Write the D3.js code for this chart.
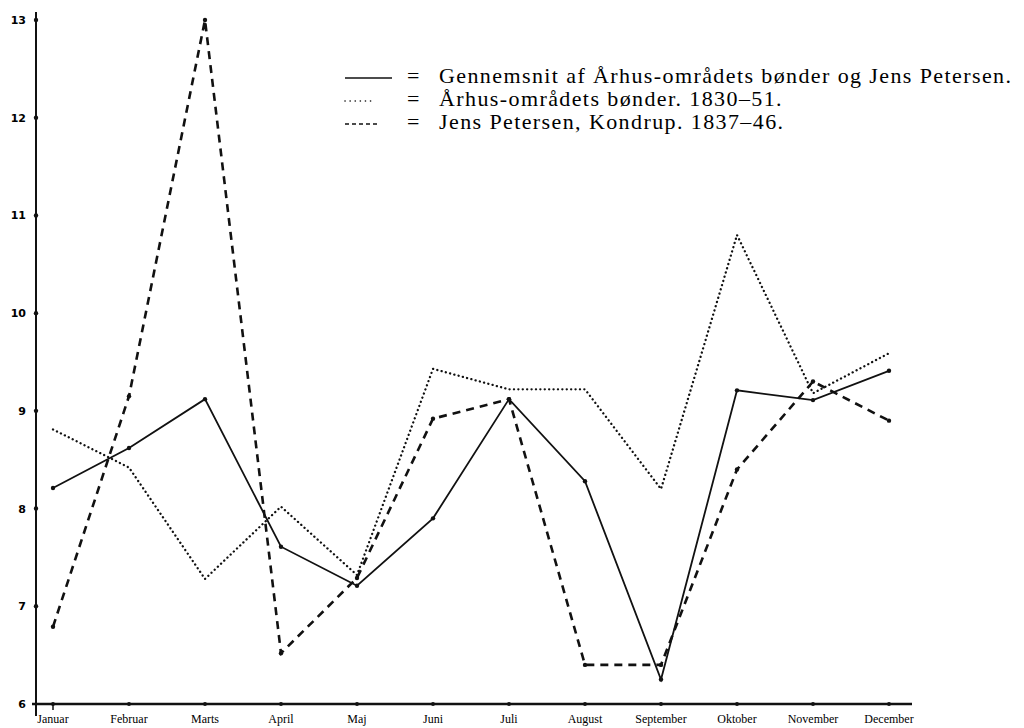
<!DOCTYPE html>
<html>
<head>
<meta charset="utf-8">
<script src="https://cdn.jsdelivr.net/npm/d3@7"></script>
<style>
  body { margin: 0; background: #fff; }
  .ytick { font-family: "DejaVu Sans", sans-serif; font-weight: bold; font-size: 11px; }
  .month { font-family: "Liberation Serif", serif; font-size: 12px; }
  .legend { font-family: "Liberation Serif", serif; font-size: 22px; letter-spacing: 1.4px; }
</style>
</head>
<body>
<div id="chart"></div>
<script>
var months = ["Januar", "Februar", "Marts", "April", "Maj", "Juni", "Juli",
  "August", "September", "Oktober", "November", "December"];
var yTicks = [6, 7, 8, 9, 10, 11, 12, 13];

// Gennemsnit (solid)
var avg = [8.21, 8.62, 9.12, 7.61, 7.21, 7.90, 9.12, 8.28, 6.25, 9.21, 9.11, 9.41];
// Århus-områdets bønder (dotted)
var aarhus = [8.81, 8.42, 7.28, 8.02, 7.32, 9.43, 9.22, 9.22, 8.20, 10.80, 9.18, 9.59];
// Jens Petersen (dashed)
var jens = [6.79, 9.15, 13.0, 6.52, 7.29, 8.92, 9.12, 6.40, 6.40, 8.40, 9.30, 8.90];

var legendLabels = [
  "Gennemsnit af Århus-områdets bønder og Jens Petersen.",
  "Århus-områdets bønder. 1830–51.",
  "Jens Petersen, Kondrup. 1837–46."
];

var width = 1024;
var height = 728;

var svg = d3.select("#chart")
  .append("svg")
  .attr("width", width)
  .attr("height", height);

var x = d3.scalePoint()
  .domain(months)
  .range([53, 889]);

var y = d3.scaleLinear()
  .domain([6, 13])
  .range([704, 20]);

// axes
svg.append("line")
  .attr("x1", 36).attr("x2", 36)
  .attr("y1", 12).attr("y2", 716)
  .attr("stroke", "#111").attr("stroke-width", 2);

svg.append("line")
  .attr("x1", 32).attr("x2", 912)
  .attr("y1", y(6)).attr("y2", y(6))
  .attr("stroke", "#111").attr("stroke-width", 2.5);

svg.selectAll(".ydot")
  .data(yTicks.slice(1))
  .enter().append("circle")
  .attr("cx", 36).attr("cy", d => y(d)).attr("r", 2.2).attr("fill", "#111");

svg.selectAll(".ytick")
  .data(yTicks)
  .enter().append("text")
  .attr("class", "ytick")
  .attr("x", 26)
  .attr("y", d => y(d) + 4)
  .attr("text-anchor", "end")
  .text(d => d);

svg.selectAll(".xdot")
  .data(months)
  .enter().append("circle")
  .attr("cx", d => x(d)).attr("cy", y(6)).attr("r", 2).attr("fill", "#111");

svg.append("line")
  .attr("x1", x("Januar")).attr("x2", x("Januar"))
  .attr("y1", y(6)).attr("y2", y(6) + 6)
  .attr("stroke", "#111").attr("stroke-width", 1.5);

svg.selectAll(".month")
  .data(months)
  .enter().append("text")
  .attr("class", "month")
  .attr("x", d => x(d))
  .attr("y", 723)
  .attr("text-anchor", "middle")
  .text(d => d);

// series
var line = d3.line()
  .x((d, i) => x(months[i]))
  .y(d => y(d));

var series = [
  {values: avg, width: 1.8, dash: null},
  {values: aarhus, width: 2.3, dash: "0.1,4.3", cap: "round"},
  {values: jens, width: 2.6, dash: "8,6"}
];

series.forEach(function(s) {
  svg.append("path")
    .datum(s.values)
    .attr("d", line)
    .attr("fill", "none")
    .attr("stroke", "#111")
    .attr("stroke-width", s.width)
    .attr("stroke-linecap", s.cap || "butt")
    .attr("stroke-dasharray", s.dash);
});

[avg, jens].forEach(function(vals) {
  svg.selectAll(null)
    .data(vals)
    .enter().append("circle")
    .attr("cx", (d, i) => x(months[i]))
    .attr("cy", d => y(d))
    .attr("r", 2.2)
    .attr("fill", "#111");
});

// legend
var legend = svg.append("g").attr("transform", "translate(345,0)");
var rows = [83, 106, 129];
legendLabels.forEach(function(label, i) {
  var len = i == 0 ? 47 : (i == 1 ? 27 : 35);
  legend.append("line")
    .attr("x1", 0).attr("x2", len)
    .attr("y1", rows[i] - 5).attr("y2", rows[i] - 5)
    .attr("stroke", "#111")
    .attr("stroke-width", i == 0 ? 1.3 : 1.6)
    .attr("stroke-linecap", i == 1 ? "round" : "butt")
    .attr("stroke-dasharray", i == 0 ? null : (i == 1 ? "0.1,5" : "4,3"));
  legend.append("text")
    .attr("class", "legend")
    .attr("x", 62)
    .attr("y", rows[i])
    .text("=");
  legend.append("text")
    .attr("class", "legend")
    .attr("x", 94)
    .attr("y", rows[i])
    .text(label);
});
</script>
</body>
</html>
